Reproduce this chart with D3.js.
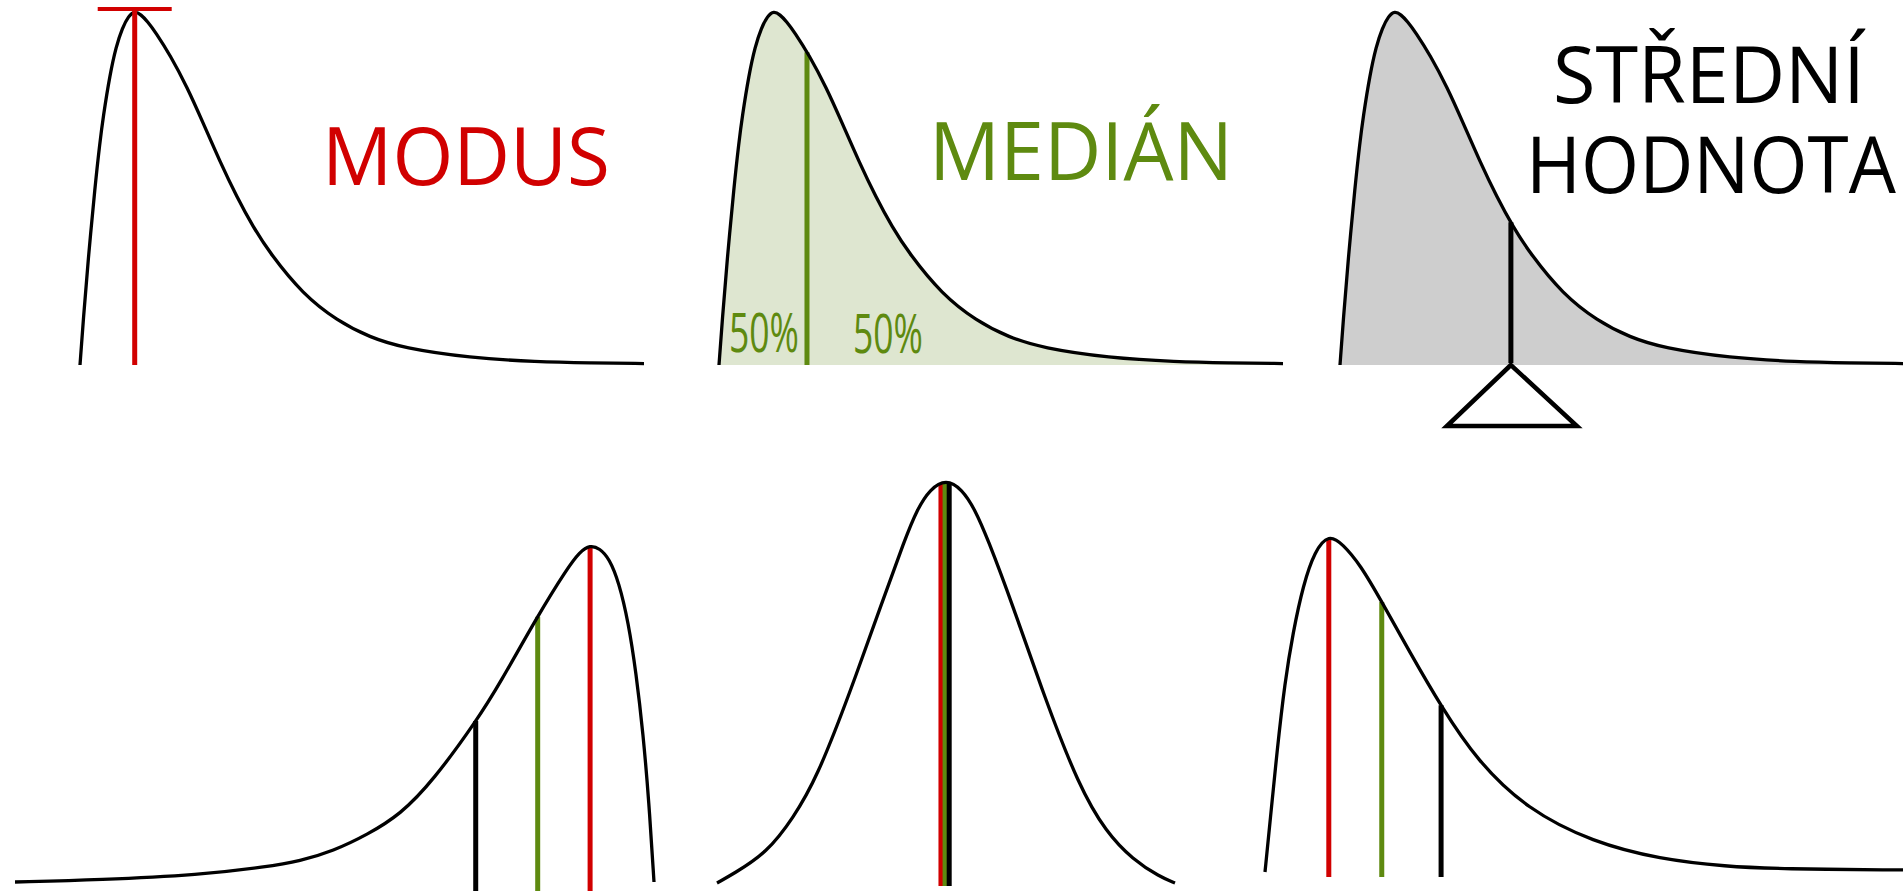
<!DOCTYPE html>
<html>
<head>
<meta charset="utf-8">
<script src="https://cdn.jsdelivr.net/npm/d3@7"></script>
<style>
  html, body { margin: 0; padding: 0; background: #ffffff; }
  svg { display: block; }
</style>
</head>
<body>
<div id="chart"></div>
<script>
// ---------- DATA ----------
// Right-skewed curve used by the three upper panels (x: 0..10, relative density 0..1)
const topCurveX = [0, 0.06, 0.14, 0.27, 0.35, 0.41, 0.53, 0.64, 0.75, 0.86, 0.97, 1.08, 1.20, 1.34, 1.60, 1.90, 2.18, 2.48, 2.78, 3.07, 3.37, 3.95, 4.56, 5.14, 5.73, 6.91, 8.10, 9.04, 10];
const topCurveY = [0, 0.13, 0.29, 0.51, 0.625, 0.70, 0.82, 0.90, 0.952, 0.986, 1.00, 0.99, 0.97, 0.94, 0.875, 0.785, 0.685, 0.575, 0.475, 0.39, 0.315, 0.20, 0.125, 0.078, 0.048, 0.02, 0.009, 0.006, 0.004];

// Left-skewed curve (lower left)
const leftSkewX = [0, 1.33, 2.90, 3.94, 4.46, 4.98, 5.51, 6.03, 6.54, 7.23, 7.59, 8.18, 8.64, 8.84, 9.00, 9.15, 9.30, 9.45, 9.60, 9.72, 9.83, 9.92, 10];
const leftSkewY = [0, 0.006, 0.021, 0.045, 0.062, 0.092, 0.14, 0.20, 0.30, 0.48, 0.59, 0.79, 0.93, 0.98, 1.00, 0.99, 0.96, 0.89, 0.77, 0.62, 0.44, 0.24, 0];

// Symmetric curve (lower middle)
const normalX = [-5, -4.65, -3.91, -3.34, -2.82, -2.10, -1.38, -0.90, -0.63, -0.35, 0, 0.35, 0.63, 0.90, 1.45, 2.15, 2.90, 3.50, 4.08, 4.67, 5];
const normalY = [0, 0.022, 0.075, 0.16, 0.26, 0.47, 0.70, 0.85, 0.925, 0.975, 1.00, 0.975, 0.925, 0.855, 0.69, 0.46, 0.24, 0.125, 0.058, 0.015, 0];

// Right-skewed curve (lower right)
const rightSkewX = [0, 0.08, 0.19, 0.31, 0.44, 0.60, 0.78, 1.00, 1.22, 1.49, 1.83, 2.27, 2.76, 3.32, 4.11, 5.14, 6.19, 7.24, 8.07, 10];
const rightSkewY = [0, 0.15, 0.36, 0.56, 0.71, 0.85, 0.95, 1.00, 0.97, 0.91, 0.80, 0.65, 0.49, 0.33, 0.185, 0.088, 0.038, 0.016, 0.009, 0.006];

// Positions of modus, medián, střední hodnota on each curve
const measureNames = ["modus", "medián", "střední hodnota"];
const topMeasures = [0.97, 1.56, 3.03];
const leftSkewMeasures = [9.00, 8.18, 7.21];
const normalMeasures = [-0.11, -0.02, 0.07];
const rightSkewMeasures = [1.00, 1.83, 2.76];

// Texts
const titleLabels = ["MODUS", "MEDIÁN", "STŘEDNÍ", "HODNOTA"];
const halfLabels = ["50%", "50%"];

// ---------- STYLE ----------
const RED = "#d10000", GREEN = "#5e8a10", BLACK = "#000000";
const measureColors = [RED, GREEN, BLACK];
const FONT = "'Open Sans', 'Noto Sans', sans-serif";

const W = 1903, H = 891;
const svg = d3.select("#chart").append("svg")
  .attr("width", W).attr("height", H)
  .attr("viewBox", `0 0 ${W} ${H}`);
svg.append("rect").attr("width", W).attr("height", H).attr("fill", "#fff");

function zipPts(xs, ys) { return xs.map((x, i) => ({ x: x, y: ys[i] })); }

// y of a drawn path at a given pixel x (path x grows monotonically with length)
function yOnPath(node, px) {
  const L = node.getTotalLength();
  let lo = 0, hi = L;
  for (let k = 0; k < 40; k++) {
    const mid = (lo + hi) / 2;
    if (node.getPointAtLength(mid).x < px) lo = mid; else hi = mid;
  }
  return node.getPointAtLength((lo + hi) / 2).y;
}

// text drawn at its natural size and squeezed horizontally to a target width
function fittedText(str, x, y, size, color, width) {
  const g = svg.append("g");
  const t = g.append("text").text(str)
    .attr("x", 0).attr("y", 0)
    .attr("font-family", FONT).attr("font-size", size).attr("fill", color);
  const natural = t.node().getComputedTextLength();
  const sx = natural > 0 ? width / natural : 1;
  g.attr("transform", `translate(${x},${y}) scale(${sx},1)`);
  return t;
}

function makePanel(cfg) {
  const x = d3.scaleLinear().domain(cfg.xDomain).range(cfg.xRange);
  const y = d3.scaleLinear().domain([0, 1]).range(cfg.yRange);
  const pts = zipPts(cfg.xs, cfg.ys);
  const g = svg.append("g");
  const curve = d3.curveBasis;
  const fillG = g.append("g");
  const markG = g.append("g");
  const lineG = g.append("g");
  if (cfg.fill) {
    const area = d3.area().x(d => x(d.x)).y0(y(0)).y1(d => y(d.y)).curve(curve);
    fillG.append("path").datum(pts).attr("d", area).attr("fill", cfg.fill);
  }
  const line = d3.line().x(d => x(d.x)).y(d => y(d.y)).curve(curve);
  const path = lineG.append("path").datum(pts).attr("d", line)
    .attr("fill", "none").attr("stroke", "#000").attr("stroke-width", 3.3)
    .attr("stroke-linejoin", "round");
  return { x, y, g, markG, path: path.node(), cfg };
}

function drawMarkers(p, which, bottom) {
  which.forEach(i => {
    const v = p.cfg.measures[i];
    const px = p.x(v);
    const top = yOnPath(p.path, px);
    p.markG.append("line")
      .attr("x1", px).attr("x2", px)
      .attr("y1", top).attr("y2", bottom)
      .attr("stroke", measureColors[i]).attr("stroke-width", 5);
  });
}

// ---------- TOP LEFT: MODUS ----------
const pTL = makePanel({ xs: topCurveX, ys: topCurveY, measures: topMeasures, xDomain: [0, 10], xRange: [80, 644], yRange: [365, 11] });
{
  const mx = pTL.x(topMeasures[0]);
  pTL.g.append("line").attr("x1", mx).attr("x2", mx).attr("y1", 9).attr("y2", 365)
    .attr("stroke", RED).attr("stroke-width", 5);
  pTL.g.append("line").attr("x1", mx - 37).attr("x2", mx + 37).attr("y1", 9).attr("y2", 9)
    .attr("stroke", RED).attr("stroke-width", 4);
}
fittedText(titleLabels[0], 322, 185, 80, RED, 288);

// ---------- TOP MIDDLE: MEDIÁN ----------
const pTM = makePanel({ xs: topCurveX, ys: topCurveY, measures: topMeasures, xDomain: [0, 10], xRange: [719, 1283], yRange: [365, 11], fill: "#dee6d0" });
drawMarkers(pTM, [1], 365);
fittedText(titleLabels[1], 929, 180, 80, GREEN, 304);
const halfPos = [[729, 352], [853, 353]];
halfLabels.forEach((t, i) => {
  fittedText(t, halfPos[i][0], halfPos[i][1], 55, GREEN, 70);
});

// ---------- TOP RIGHT: STŘEDNÍ HODNOTA ----------
const pTR = makePanel({ xs: topCurveX, ys: topCurveY, measures: topMeasures, xDomain: [0, 10], xRange: [1340, 1904], yRange: [365, 11], fill: "#cecece" });
drawMarkers(pTR, [2], 363);
{
  const ax = pTR.x(topMeasures[2]);
  const tri = [[ax, 365], [ax - 64, 426], [ax + 66, 426]];
  pTR.g.append("path").attr("d", d3.line()(tri) + "Z")
    .attr("fill", "#fff").attr("stroke", "#000").attr("stroke-width", 4.5)
    .attr("stroke-linejoin", "miter");
}
fittedText(titleLabels[2], 1553, 103, 78, BLACK, 312);
fittedText(titleLabels[3], 1526, 193, 78, BLACK, 370);

// ---------- BOTTOM LEFT: left-skewed ----------
const pBL = makePanel({ xs: leftSkewX, ys: leftSkewY, measures: leftSkewMeasures, xDomain: [0, 10], xRange: [15, 654], yRange: [882, 545] });
drawMarkers(pBL, [2, 1, 0], 895);

// ---------- BOTTOM MIDDLE: symmetric ----------
const pBM = makePanel({ xs: normalX, ys: normalY, measures: normalMeasures, xDomain: [-5, 5], xRange: [717, 1175], yRange: [883, 479] });
drawMarkers(pBM, [0, 1, 2], 886);

// ---------- BOTTOM RIGHT: right-skewed ----------
const pBR = makePanel({ xs: rightSkewX, ys: rightSkewY, measures: rightSkewMeasures, xDomain: [0, 10], xRange: [1265, 1903], yRange: [872, 534] });
drawMarkers(pBR, [0, 1, 2], 877);
</script>
</body>
</html>
